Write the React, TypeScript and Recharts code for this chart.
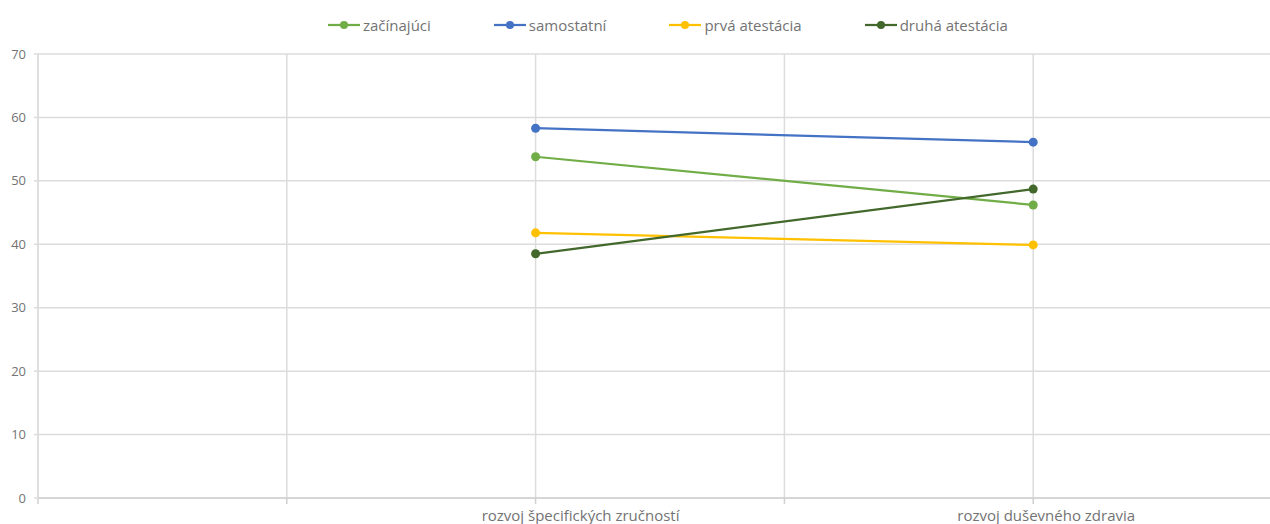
import { LineChart, Line, XAxis, YAxis, CartesianGrid, Legend } from 'recharts';

const categories = ['rozvoj špecifických zručností', 'rozvoj duševného zdravia'];
const zacinajuci = [53.8, 46.2];
const samostatni = [58.3, 56.1];
const prvaAtestacia = [41.8, 39.9];
const druhaAtestacia = [38.5, 48.7];
const yTicks = [0, 10, 20, 30, 40, 50, 60, 70];

const series = [
  { key: 'zacinajuci', name: 'začínajúci', color: '#70ad47' },
  { key: 'samostatni', name: 'samostatní', color: '#4472c4' },
  { key: 'prva', name: 'prvá atestácia', color: '#ffc000' },
  { key: 'druha', name: 'druhá atestácia', color: '#43682b' },
];

// first category slot on the axis is empty, data sits on slots 1 and 2
const data = categories.map((c, i) => ({
  x: i + 1,
  label: c,
  zacinajuci: zacinajuci[i],
  samostatni: samostatni[i],
  prva: prvaAtestacia[i],
  druha: druhaAtestacia[i],
}));

const FONT = '"Open Sans", sans-serif';
const TEXT = '#737373';
const labelShift = [45, 13];

function CategoryTick(props: any) {
  const { x, y, payload } = props;
  const idx = payload.value - 1;
  if (!Number.isInteger(payload.value) || idx < 0 || idx >= categories.length) return null;
  return (
    <text x={x + labelShift[idx]} y={y + 15} textAnchor="middle" fill={TEXT} fontSize={15} fontFamily={FONT}>
      {categories[idx]}
    </text>
  );
}

function LegendContent() {
  return (
    <div style={{ display: 'flex', paddingLeft: 328, fontFamily: FONT, fontSize: 15, color: TEXT }}>
      {series.map((s) => (
        <div key={s.key} style={{ display: 'flex', alignItems: 'center', marginRight: 63 }}>
          <svg width={32} height={10} style={{ marginRight: 3 }}>
            <line x1={0} y1={5} x2={32} y2={5} stroke={s.color} strokeWidth={2.25} />
            <circle cx={16} cy={5} r={4} fill={s.color} />
          </svg>
          <span>{s.name}</span>
        </div>
      ))}
    </div>
  );
}

export default function App() {
  return (
    <div style={{ position: 'absolute', left: 0, top: 0, width: 1270, height: 524, overflow: 'hidden', background: '#fff' }}>
      <LineChart width={1290} height={524} data={data} margin={{ top: 54, right: 8, left: 0, bottom: 0 }}>
        <CartesianGrid stroke="#dcdcdc" strokeWidth={1.5} />
        <XAxis
          dataKey="x"
          type="number"
          domain={[0, 2.5]}
          ticks={[0, 0.5, 1, 1.5, 2, 2.5]}
          height={26}
          tickSize={6}
          axisLine={{ stroke: '#d0d0d0', strokeWidth: 1.5 }}
          tickLine={{ stroke: '#d0d0d0', strokeWidth: 1.5 }}
          tick={<CategoryTick />}
          interval={0}
        />
        <YAxis
          width={38}
          domain={[0, 70]}
          ticks={yTicks}
          tickSize={4}
          tickMargin={8}
          axisLine={{ stroke: '#dcdcdc', strokeWidth: 1.5 }}
          tickLine={{ stroke: '#dcdcdc', strokeWidth: 1.5 }}
          tick={{ fill: TEXT, fontSize: 13, fontFamily: FONT }}
        />
        <Legend
          layout="horizontal"
          verticalAlign="middle"
          align="center"
          wrapperStyle={{ top: 15, left: 0, width: 1270 }}
          content={<LegendContent />}
        />
        {series.map((s) => (
          <Line
            key={s.key}
            dataKey={s.key}
            name={s.name}
            stroke={s.color}
            strokeWidth={2.25}
            dot={{ r: 4.5, fill: s.color, stroke: s.color, strokeWidth: 0 }}
            activeDot={false}
            isAnimationActive={false}
          />
        ))}
      </LineChart>
    </div>
  );
}
